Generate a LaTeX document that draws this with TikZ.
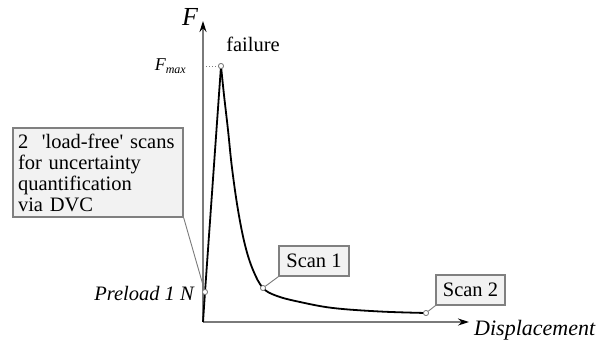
\documentclass[tikz,border=0pt]{standalone}
\usepackage{fontspec}
\setmainfont{Liberation Serif}
\usetikzlibrary{arrows.meta}
\definecolor{axisgray}{HTML}{7A7A7A}
\definecolor{boxfill}{HTML}{F2F2F2}
\definecolor{boxline}{HTML}{808080}
\tikzset{
  axisline/.style={draw=axisgray, line width=1.2pt, -{Stealth[length=11pt,width=7pt,color=black]}},
  curveline/.style={draw=black, line width=1.8pt, line join=round},
  pt/.style={circle, draw=axisgray, fill=white, line width=0.7pt, inner sep=0pt, minimum size=5pt},
  callout/.style={draw=boxline, fill=boxfill, line width=1.3pt, inner sep=0pt, font=\fontsize{20.5}{21}\selectfont},
  leader/.style={draw=axisgray, line width=0.9pt},
  lbl/.style={inner sep=0pt}
}
\begin{document}
\begin{tikzpicture}[x=1pt,y=-1pt]
\useasboundingbox (0,0) rectangle (601,343);
% axes
\coordinate (O) at (203,322);
\coordinate (ytip) at (203,21);
\coordinate (xtip) at (469,322);
\draw[axisline] (O) -- (ytip);
\draw[axisline] (O) -- (xtip);
% curve points
\node[pt] (pre) at (205,292) {};
\node[pt] (peak) at (221,66) {};
\node[pt] (s1) at (263,288) {};
\node[pt] (s2) at (426,313) {};
% curve
\draw[curveline] (O) -- (pre.center) -- (peak.center);
\draw[curveline] plot[smooth, tension=0.6] coordinates {(221,66) (224,95) (228,130) (232,168) (238,210) (245,245) (253,270) (263,288) (277,296) (300,302) (333,308) (380,311.5) (426,313)};
\node[pt] at (pre) {};
\node[pt] at (peak) {};
\node[pt] at (s1) {};
\node[pt] at (s2) {};
% dotted Fmax line
\coordinate (fy) at (203,66);
\draw[draw=axisgray, line width=1pt, dotted] (fy) -- (peak.west);
% labels
\node[lbl] (F) at (190,17) {\fontsize{26}{26}\selectfont\itshape F};
\node[lbl] (fail) at (253,44) {\fontsize{20.5}{21}\selectfont failure};
\node[lbl, anchor=east] (fmax) at (186,66) {\fontsize{18}{18}\selectfont\itshape F\raisebox{-0.35ex}{\fontsize{12}{12}\selectfont max}};
\node[lbl, anchor=east] (prel) at (194,293) {\fontsize{20.5}{21}\selectfont\itshape Preload 1 N};
\node[lbl, anchor=west] (disp) at (474,330) {\fontsize{22}{22}\selectfont\itshape Displacement};
% callouts
\node[callout, minimum width=170pt, minimum height=89pt, text width=160pt, inner xsep=5pt, align=left] (lf) at (98,172.5) {2\ \ \textquotesingle load-free\textquotesingle\ scans\\for uncertainty\\quantification\\via DVC};
\node[callout, minimum width=70pt, minimum height=30pt] (b1) at (314,261) {Scan 1};
\node[callout, minimum width=69pt, minimum height=30pt] (b2) at (470.5,290) {Scan 2};
% leaders
\draw[leader] (lf.south east) -- (pre);
\draw[leader] (b1.south west) -- (s1);
\draw[leader] (b2.south west) -- (s2);
\end{tikzpicture}
\end{document}
